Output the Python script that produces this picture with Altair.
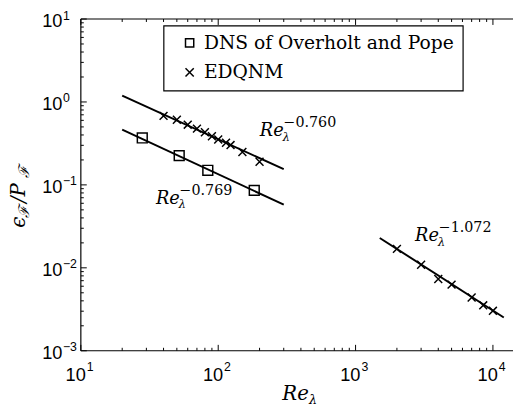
import altair as alt
import pandas as pd

# ---------------- data ----------------
dns_re = [28, 52, 84, 183]
dns_ratio = [0.368, 0.225, 0.150, 0.0858]

edq_low_re = [40, 50, 60, 70, 80, 90, 100, 114, 123, 150, 200]
edq_low_ratio = [0.680, 0.610, 0.532, 0.477, 0.431, 0.386, 0.353, 0.322, 0.302, 0.249, 0.190]

edq_high_re = [2000, 3000, 4000, 5000, 7000, 8500, 10000]
edq_high_ratio = [0.01694, 0.01089, 0.00733, 0.00627, 0.00439, 0.00353, 0.00303]

fit_id = ["edq_low", "edq_low", "dns", "dns", "edq_high", "edq_high"]
fit_re = [20, 300, 20, 300, 1500, 12000]
fit_ratio = [1.19, 0.155, 0.464, 0.0578, 0.0229, 0.00252]

ann_re = [201, 35.2, 2713]
ann_ratio = [0.386, 0.0596, 0.0209]
ann_exp = ["\u22120.760", "\u22120.769", "\u22121.072"]

series_names = ["DNS of Overholt and Pope", "EDQNM"]

x_major = [10, 100, 1000, 10000]
x_major_exp = ["1", "2", "3", "4"]
y_major = [1e-3, 1e-2, 1e-1, 1, 10]
y_major_exp = ["\u22123", "\u22122", "\u22121", "0", "1"]
x_minor = [m * 10 ** e for e in range(1, 4) for m in range(2, 10)]
y_minor = [m * 10.0 ** e for e in range(-3, 1) for m in range(2, 10)]

# ---------------- layout ----------------
W, H = 439, 337
PADL, PADT, PADB = 74, 8, 58
CROSS = "M-1,-1L1,1M-1,1L1,-1"

xs = alt.Scale(type="log", domain=[10, 14000], nice=False)
ys = alt.Scale(type="log", domain=[1e-3, 10], nice=False)
shape_scale = alt.Scale(domain=series_names, range=["square", CROSS])


def X(f):
    return alt.X(f, type="quantitative", scale=xs, axis=None)


def Y(f):
    return alt.Y(f, type="quantitative", scale=ys, axis=None)


one = pd.DataFrame({"a": [0]})

# spines
top = alt.Chart(one).mark_rule(color="black", strokeWidth=1.2).encode(
    x=alt.value(0), x2=alt.value(W), y=alt.value(0))
bottom = alt.Chart(one).mark_rule(color="black", strokeWidth=1.2).encode(
    x=alt.value(0), x2=alt.value(W), y=alt.value(H))
left = alt.Chart(one).mark_rule(color="black", strokeWidth=1.2).encode(
    x=alt.value(0), y=alt.value(0), y2=alt.value(H))

# ticks (inward)
dxM = pd.DataFrame({"v": x_major, "b": ["10"] * 4, "e": x_major_exp})
dxm = pd.DataFrame({"v": x_minor})
dyM = pd.DataFrame({"v": y_major, "b": ["10"] * 5, "e": y_major_exp})
dym = pd.DataFrame({"v": y_minor})

tick_layers = []
for df, ln in ((dxM, 6), (dxm, 3)):
    tick_layers.append(alt.Chart(df).mark_rule(color="black", strokeWidth=1).encode(
        x=X("v"), y=alt.value(H), y2=alt.value(H - ln)))
    tick_layers.append(alt.Chart(df).mark_rule(color="black", strokeWidth=1).encode(
        x=X("v"), y=alt.value(0), y2=alt.value(ln)))
for df, ln in ((dyM, 6), (dym, 3)):
    tick_layers.append(alt.Chart(df).mark_rule(color="black", strokeWidth=1).encode(
        y=Y("v"), x=alt.value(0), x2=alt.value(ln)))

# tick labels
LF = "Liberation Sans"
xl_b = alt.Chart(dxM).mark_text(align="right", baseline="alphabetic", font=LF, fontSize=18.5,
                                color="black", dx=5).encode(x=X("v"), y=alt.value(H + 30.6), text="b:N")
xl_e = alt.Chart(dxM).mark_text(align="left", baseline="alphabetic", font=LF, fontSize=12.5,
                                color="black", dx=6).encode(x=X("v"), y=alt.value(H + 20.6), text="e:N")
yl_b = alt.Chart(dyM).mark_text(align="right", baseline="alphabetic", font=LF, fontSize=18.5,
                                color="black", dy=8.3).encode(y=Y("v"), x=alt.value(-18.7), text="b:N")
yl_e = alt.Chart(dyM).mark_text(align="left", baseline="alphabetic", font=LF, fontSize=12.5,
                                color="black", dy=0.5).encode(y=Y("v"), x=alt.value(-18.2), text="e:N")

# fit lines
fits = pd.DataFrame({"id": fit_id, "re": fit_re, "ratio": fit_ratio})
lines = alt.Chart(fits).mark_line(color="black", strokeWidth=2).encode(
    x=X("re"), y=Y("ratio"), detail="id:N")

# points
dns_df = pd.DataFrame({"re": dns_re, "ratio": dns_ratio, "series": [series_names[0]] * len(dns_re)})
edq_df = pd.DataFrame({"re": edq_low_re + edq_high_re, "ratio": edq_low_ratio + edq_high_ratio,
                       "series": [series_names[1]] * (len(edq_low_re) + len(edq_high_re))})

legend = alt.Legend(title=None, orient="none", legendX=84, legendY=6.7,
                    strokeColor="black", fillColor="white", padding=8,
                    rowPadding=10, symbolOffset=9, labelOffset=5,
                    labelFont="DejaVu Serif", labelFontSize=19,
                    labelColor="black", labelLimit=400, symbolSize=70,
                    symbolStrokeWidth=1.5, symbolStrokeColor="black",
                    symbolFillColor="transparent")

sq = alt.Chart(dns_df).mark_point(filled=False, color="black", strokeWidth=1.5, opacity=1, size=100).encode(
    x=X("re"), y=Y("ratio"), shape=alt.Shape("series:N", scale=shape_scale, legend=legend))
cr = alt.Chart(edq_df).mark_point(filled=False, color="black", strokeWidth=1.5, opacity=1, size=64).encode(
    x=X("re"), y=Y("ratio"), shape=alt.Shape("series:N", scale=shape_scale, legend=legend))

# annotations
ann = pd.DataFrame({"re": ann_re, "ratio": ann_ratio, "b": ["Re"] * 3, "s": ["\u03bb"] * 3, "e": ann_exp})
SF = "DejaVu Serif"
a_b = alt.Chart(ann).mark_text(align="left", baseline="alphabetic", font=SF, fontStyle="italic",
                               fontSize=18, color="black").encode(x=X("re"), y=Y("ratio"), text="b:N")
a_s = alt.Chart(ann).mark_text(align="left", baseline="alphabetic", font=SF, fontStyle="italic",
                               fontSize=12, color="black", dx=23, dy=5).encode(x=X("re"), y=Y("ratio"), text="s:N")
a_e = alt.Chart(ann).mark_text(align="left", baseline="alphabetic", font=SF,
                               fontSize=14.5, color="black", dx=24, dy=-9).encode(x=X("re"), y=Y("ratio"), text="e:N")

# axis titles
xt_b = alt.Chart(one).mark_text(align="left", baseline="alphabetic", font=SF, fontStyle="italic",
                                fontSize=20, color="black").encode(
    x=alt.value(204.7), y=alt.value(H + 50), text=alt.value("Re"))
xt_s = alt.Chart(one).mark_text(align="left", baseline="alphabetic", font=SF, fontStyle="italic",
                                fontSize=13, color="black").encode(
    x=alt.value(204.7 + 27), y=alt.value(H + 54), text=alt.value("\u03bb"))

YX = -57
yt = []
for txt, ypos, dxo, fs in (("\u03f5", 212, 0, 20), ("\u2131", 202, 4, 15),
                           ("/P", 187, 0, 20), ("\u2131", 162, 4, 15)):
    yt.append(alt.Chart(one).mark_text(angle=270, align="left", baseline="alphabetic", font=SF,
                                       fontStyle="italic", fontSize=fs, color="black").encode(
        x=alt.value(YX + dxo), y=alt.value(ypos), text=alt.value(txt)))

chart = alt.layer(
    lines, sq, cr, *tick_layers, top, bottom, left,
    xl_b, xl_e, yl_b, yl_e, a_b, a_s, a_e, xt_b, xt_s, *yt,
).properties(
    width=W, height=H,
    padding={"left": PADL, "top": PADT, "right": 0, "bottom": PADB},
    autosize=alt.AutoSizeParams(type="none"),
).configure_view(stroke=None).configure_legend(strokeWidth=1.2)

chart.save("out.html", embed_options={"renderer": "svg", "actions": False})
